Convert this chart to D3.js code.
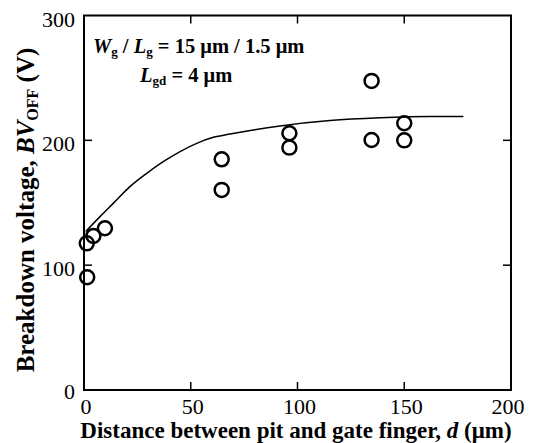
<!DOCTYPE html>
<html>
<head>
<script src="https://cdn.jsdelivr.net/npm/d3@7"></script>
<style>
  body { margin: 0; background: #fff; }
  text { font-family: "Liberation Serif", "Times New Roman", serif; fill: #000; }
</style>
</head>
<body>
<svg></svg>
<script>
// measured points
var dist = [1.5, 1.3, 4.4, 9.8, 64.5, 64.5, 96.2, 96.2, 134.7, 134.7, 150, 150];
var bv   = [90.3, 117.5, 123.4, 129.6, 184.8, 160.3, 205.7, 194.2, 247.6, 200.3, 213.7, 200];

// fitted curve
var curveD  = [0.8, 7.5, 13.7, 21.5, 29.4, 37.1, 45, 52.8, 60.6, 68.4, 80, 91.8, 115.2, 138.6, 162, 177.7];
var curveBV = [127, 138.9, 149.5, 162.9, 173.6, 182.9, 191, 197.6, 202.4, 205, 208.5, 211.5, 215.8, 218, 219, 219];

var xTicks = [0, 50, 100, 150, 200];
var yTicks = [0, 100, 200, 300];

var w = 537, h = 443;
var m = {left: 84, right: 26, top: 15.5, bottom: 53};

var svg = d3.select("svg").attr("width", w).attr("height", h);

var x = d3.scaleLinear().domain([0, 200]).range([m.left, w - m.right]);
var y = d3.scaleLinear().domain([0, 300]).range([h - m.bottom, m.top]);

// frame
svg.append("rect")
    .attr("x", x(0)).attr("y", y(300))
    .attr("width", x(200) - x(0)).attr("height", y(0) - y(300))
    .attr("fill", "none").attr("stroke", "#000").attr("stroke-width", 2);

var tl = 8;
// inward ticks
[50, 100, 150].forEach(function(t) {
    svg.append("line").attr("x1", x(t)).attr("x2", x(t)).attr("y1", y(0)).attr("y2", y(0) - tl)
        .attr("stroke", "#000").attr("stroke-width", 1.5);
    svg.append("line").attr("x1", x(t)).attr("x2", x(t)).attr("y1", y(300)).attr("y2", y(300) + tl)
        .attr("stroke", "#000").attr("stroke-width", 1.5);
});
[100, 200].forEach(function(t) {
    svg.append("line").attr("x1", x(0)).attr("x2", x(0) + tl).attr("y1", y(t)).attr("y2", y(t))
        .attr("stroke", "#000").attr("stroke-width", 1.5);
    svg.append("line").attr("x1", x(200)).attr("x2", x(200) - tl).attr("y1", y(t)).attr("y2", y(t))
        .attr("stroke", "#000").attr("stroke-width", 1.5);
});

// tick labels
svg.selectAll(".xl").data(xTicks).enter().append("text")
    .attr("x", function(d) { return x(d) + (d === 200 ? -3 : 2); })
    .attr("y", y(0) + 24)
    .attr("text-anchor", "middle")
    .attr("font-size", 22)
    .text(function(d) { return d; });

svg.selectAll(".yl").data(yTicks).enter().append("text")
    .attr("x", x(0) - 9)
    .attr("y", function(d) { return y(d) + (d === 0 ? 9 : 11); })
    .attr("text-anchor", "end")
    .attr("font-size", 22)
    .text(function(d) { return d; });

// curve
var pts = curveD.map(function(d, i) { return [d, curveBV[i]]; });
var line = d3.line()
    .x(function(d) { return x(d[0]); })
    .y(function(d) { return y(d[1]); })
    .curve(d3.curveMonotoneX);
svg.append("path").datum(pts)
    .attr("d", line)
    .attr("fill", "none").attr("stroke", "#000").attr("stroke-width", 1.5);

// data circles
svg.selectAll(".pt").data(dist).enter().append("circle")
    .attr("cx", function(d) { return x(d); })
    .attr("cy", function(d, i) { return y(bv[i]); })
    .attr("r", 7)
    .attr("fill", "none").attr("stroke", "#000").attr("stroke-width", 2.5);

// axis titles
var xt = svg.append("text")
    .attr("x", 296).attr("y", 438)
    .attr("text-anchor", "middle")
    .attr("font-size", 23).attr("font-weight", "bold");
xt.append("tspan").text("Distance between pit and gate finger, ");
xt.append("tspan").attr("font-style", "italic").text("d");
xt.append("tspan").text(" (\u03bcm)");

var yt = svg.append("text")
    .attr("transform", "translate(34," + 210 + ") rotate(-90)")
    .attr("text-anchor", "middle")
    .attr("font-size", 25).attr("font-weight", "bold");
yt.append("tspan").text("Breakdown voltage, ");
yt.append("tspan").attr("font-style", "italic").text("BV");
yt.append("tspan").attr("font-size", 16).attr("dy", 4).text("OFF");
yt.append("tspan").attr("dy", -4).text(" (V)");

// annotations
var a1 = svg.append("text").attr("x", 93).attr("y", 53)
    .attr("font-size", 20.5).attr("font-weight", "bold");
a1.append("tspan").attr("font-style", "italic").text("W");
a1.append("tspan").attr("font-size", 13).attr("dy", 3).text("g");
a1.append("tspan").attr("dy", -3).text(" / ");
a1.append("tspan").attr("font-style", "italic").text("L");
a1.append("tspan").attr("font-size", 13).attr("dy", 3).text("g");
a1.append("tspan").attr("dy", -3).text(" = 15 \u03bcm / 1.5 \u03bcm");

var a2 = svg.append("text").attr("x", 140).attr("y", 81.5)
    .attr("font-size", 20.5).attr("font-weight", "bold");
a2.append("tspan").attr("font-style", "italic").text("L");
a2.append("tspan").attr("font-size", 13).attr("dy", 3).text("gd");
a2.append("tspan").attr("dy", -3).text(" = 4 \u03bcm");
</script>
</body>
</html>
